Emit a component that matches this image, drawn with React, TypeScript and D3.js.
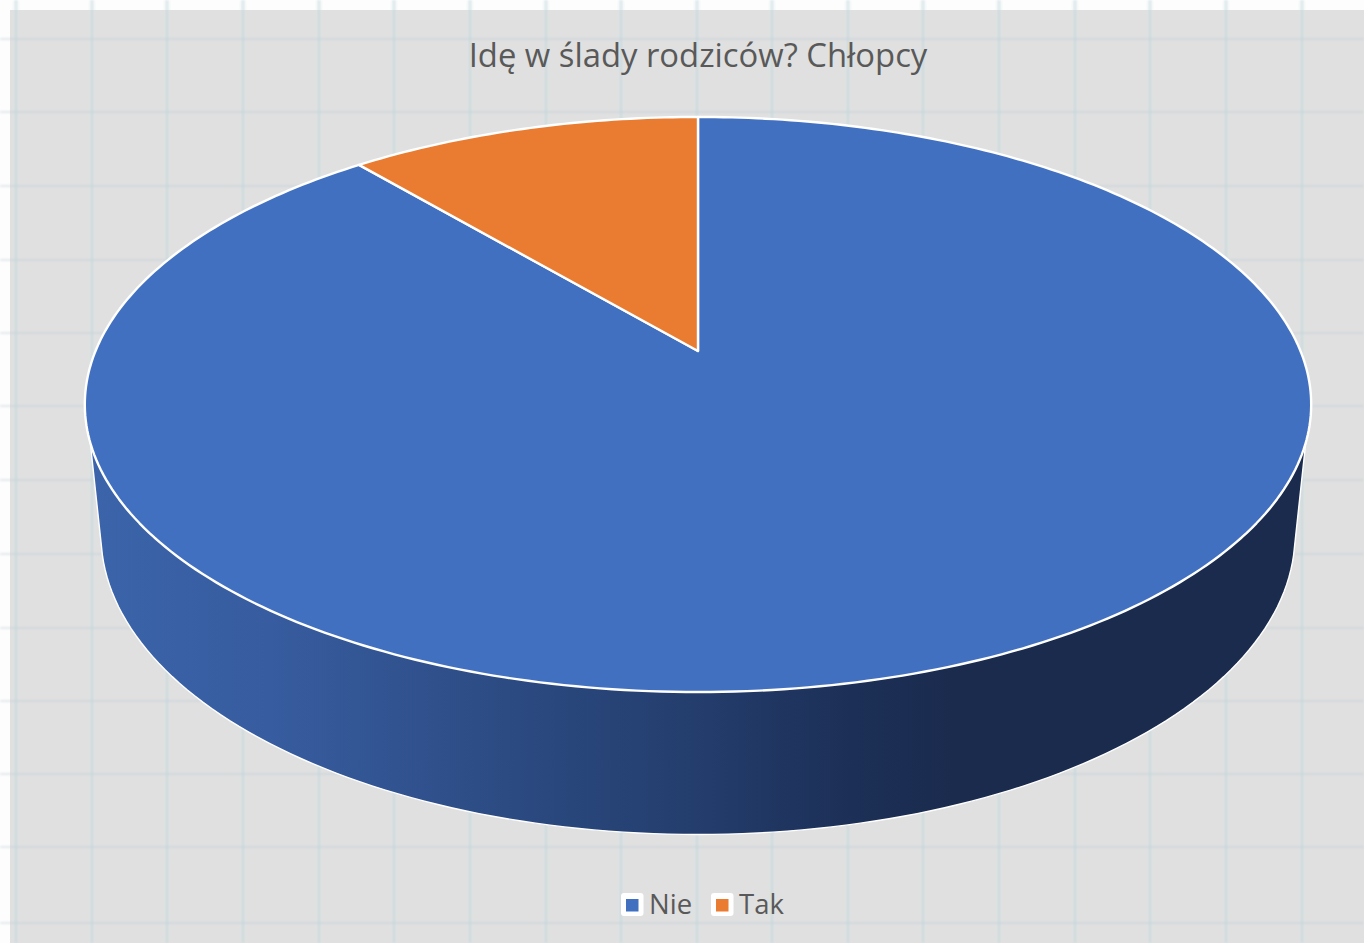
import React from "react";
import * as d3 from "d3";

const categories = ["Nie", "Tak"];
const seriesValues = [8, 1];
const sliceColors = ["#4270c0", "#ea7c31"];
const chartTitle = "Idę w ślady rodziców? Chłopcy";
const gridX = [16, 92, 167, 243, 319, 394, 470, 546, 621, 697, 772, 848, 923, 999, 1075, 1150, 1226, 1302];
const gridY = [39, 112, 186, 260, 333, 406, 480, 554, 628, 701, 774, 847, 923];
const sideStops: [number, string][] = [
  [0, "#3b64aa"],
  [0.2, "#375c9f"],
  [0.5, "#2a487e"],
  [0.68, "#233c6b"],
  [0.84, "#1c2f56"],
  [0.95, "#1a2b4e"],
  [1, "#1a2b4e"],
];

const FONT = "'Open Sans', sans-serif";
const TEXT = "#595959";

// top face: a circle seen in perspective
const CX = 698;
const APEX_Y = 351;
const K = 0.186;
const BX = 602.5;
const BY = 277.6;
const project = (a: number): [number, number] => {
  const u = Math.sin(a);
  const v = -Math.cos(a);
  const w = 1 - K * v;
  return [CX + (BX * u) / w, APEX_Y + (BY * v) / w];
};

// lower rim
const RIM_CY = 534.5;
const RIM_RX = 597;
const RIM_RY = 300;
const SIDE_TOP: [number, number] = [90, 440];

function sidePath(): string {
  const px = (SIDE_TOP[0] - CX) / RIM_RX;
  const py = (SIDE_TOP[1] - RIM_CY) / RIM_RY;
  const n2 = px * px + py * py;
  const h = Math.sqrt(n2 - 1);
  const tx = (px - py * h) / n2;
  const ty = (py + -px * h) / n2;
  const t0 = Math.atan2(ty, tx);
  const t1 = Math.PI - t0;
  const pts: [number, number][] = [SIDE_TOP];
  for (const t of d3.range(0, 121)) {
    const th = t0 + ((t1 - t0) * t) / 120;
    pts.push([CX + RIM_RX * Math.cos(th), RIM_CY + RIM_RY * Math.sin(th)]);
  }
  pts.push([2 * CX - SIDE_TOP[0], SIDE_TOP[1]]);
  pts.push([CX, 500]);
  return (d3.line()(pts) as string) + "Z";
}

function slicePath(start: number, end: number): string {
  const steps = Math.max(8, Math.ceil((end - start) * 60));
  const pts: [number, number][] = [[CX, APEX_Y]];
  for (const i of d3.range(0, steps + 1)) {
    pts.push(project(start + ((end - start) * i) / steps));
  }
  return (d3.line()(pts) as string) + "Z";
}

const legendItems = [
  { box: 621, label: 649 },
  { box: 711, label: 739 },
];

export default function App() {
  const arcs = d3.pie<number>().sort(null)(seriesValues);
  return (
    <svg
      width={1364}
      height={943}
      viewBox="0 0 1364 943"
      style={{ position: "absolute", left: 0, top: 0, display: "block" }}
    >
      <defs>
        <linearGradient id="side" gradientUnits="userSpaceOnUse" x1={90} x2={1000} y1={0} y2={0}>
          {sideStops.map(([o, c]) => (
            <stop key={o} offset={o} stopColor={c} />
          ))}
        </linearGradient>
        <filter id="soft" x="0" y="0" width="1" height="1" filterUnits="objectBoundingBox">
          <feGaussianBlur stdDeviation={0.8} />
        </filter>
      </defs>
      <rect width={1364} height={943} fill="#fdfdfd" />
      <rect x={10} y={10} width={1354} height={933} fill="#e0e0e0" />
      <g filter="url(#soft)">
        <rect width={1364} height={943} fill="none" />
        {gridX.map((x) => (
          <g key={x}>
            <line x1={x} x2={x} y1={0} y2={943} stroke="rgba(215,232,238,0.28)" strokeWidth={6} />
            <line x1={x} x2={x} y1={0} y2={943} stroke="rgba(185,203,208,0.5)" strokeWidth={1.8} />
          </g>
        ))}
        {gridY.map((y) => (
          <line key={y} x1={0} x2={1364} y1={y} y2={y} stroke="rgba(190,206,212,0.42)" strokeWidth={2} />
        ))}
      </g>
      <path d={sidePath()} fill="url(#side)" stroke="#ffffff" strokeWidth={1.4} />
      {arcs.map((a, i) => (
        <path
          key={categories[i]}
          d={slicePath(a.startAngle, a.endAngle)}
          fill={sliceColors[i]}
          stroke="#ffffff"
          strokeWidth={2.4}
          strokeLinejoin="round"
        />
      ))}
      <text x={698} y={66.5} textAnchor="middle" fontFamily={FONT} fontSize={32.8} fill={TEXT}>
        {chartTitle}
      </text>
      {categories.map((c, i) => (
        <g key={c}>
          <rect x={legendItems[i].box} y={893} width={22.5} height={23} rx={3} fill="#ffffff" />
          <rect x={legendItems[i].box + 5} y={899} width={12.5} height={12.5} fill={sliceColors[i]} />
          <text x={legendItems[i].label} y={914} fontFamily={FONT} fontSize={27.5} fill={TEXT}>
            {c}
          </text>
        </g>
      ))}
    </svg>
  );
}
